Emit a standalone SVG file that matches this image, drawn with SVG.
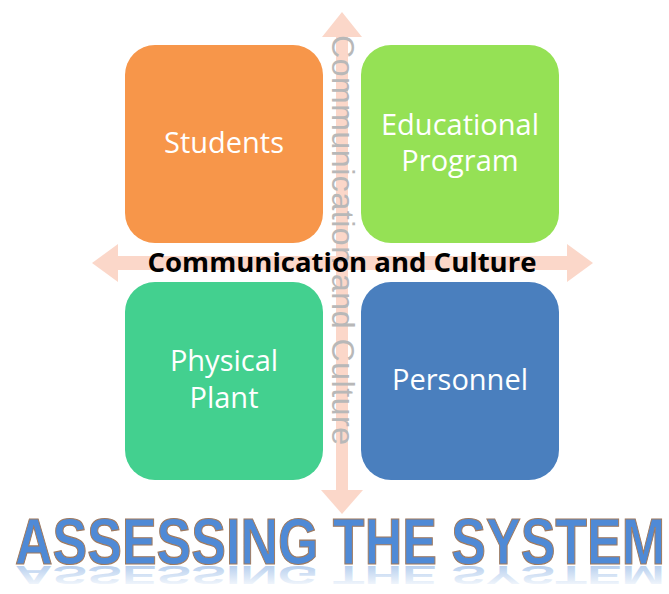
<svg xmlns="http://www.w3.org/2000/svg" width="669" height="594" viewBox="0 0 669 594">
<defs>
<style>
.box{stroke:none}
.lbl{font-family:"Open Sans","Liberation Sans",sans-serif;font-size:29px;fill:#ffffff;text-anchor:middle}
.arrow{fill:#fbd3c3;opacity:0.9}
.vtxt{font-family:"Liberation Sans",Arial,sans-serif;font-size:32px;fill:#b8b8b8}
.htxt{font-family:"Open Sans","Liberation Sans",sans-serif;font-weight:bold;font-size:27px;fill:#000000;text-anchor:middle}
.title{font-family:"Liberation Sans",Arial,sans-serif;font-weight:bold;font-size:65px;fill:#4f8ad6;stroke:#a07a5e;stroke-width:1.2}
</style>
<linearGradient id="fade" x1="0" y1="0" x2="0" y2="1">
<stop offset="0" stop-color="#4f8ad6" stop-opacity="0"/>
<stop offset="0.8" stop-color="#4f8ad6" stop-opacity="0.4"/>
<stop offset="1" stop-color="#4f8ad6" stop-opacity="0.45"/>
</linearGradient>
</defs>
<rect width="669" height="594" fill="#ffffff"/>
<g id="connectors">
<path class="arrow" d="M342,12 L362,37 L348,37 L348,490 L363,490 L342,514 L321,490 L336,490 L336,37 L322,37 Z"/>
<path class="arrow" d="M92,263 L118,244 L118,256 L567,256 L567,244 L593,263 L567,282 L567,270 L118,270 L118,282 Z"/>
</g>
<g id="students">
<rect class="box" x="125" y="45" width="198" height="198" rx="30" fill="#f7964a"/>
<text class="lbl" x="224" y="153">Students</text>
</g>
<g id="educational-program">
<rect class="box" x="361" y="45" width="198" height="198" rx="30" fill="#95e155"/>
<text class="lbl" x="460" y="135">Educational</text>
<text class="lbl" x="460" y="171">Program</text>
</g>
<g id="physical-plant">
<rect class="box" x="125" y="282" width="198" height="198" rx="30" fill="#43d08f"/>
<text class="lbl" x="224" y="371">Physical</text>
<text class="lbl" x="224" y="408">Plant</text>
</g>
<g id="personnel">
<rect class="box" x="361" y="282" width="198" height="198" rx="30" fill="#4a7fbe"/>
<text class="lbl" x="460" y="390">Personnel</text>
</g>
<g id="vertical-label">
<text class="vtxt" transform="translate(332,35) rotate(90)" x="0" y="0" textLength="410">Communication and Culture</text>
</g>
<g id="horizontal-label">
<text class="htxt" x="342" y="272" textLength="389" lengthAdjust="spacingAndGlyphs">Communication and Culture</text>
</g>
<g id="title">
<text class="title" transform="translate(15,566) scale(0.8,-0.4)" x="0" y="0" style="stroke:none;fill:url(#fade)">ASSESSING THE SYSTEM</text>
<text class="title" transform="translate(15,564) scale(0.8,1)" x="0" y="0">ASSESSING THE SYSTEM</text>
</g>
</svg>
